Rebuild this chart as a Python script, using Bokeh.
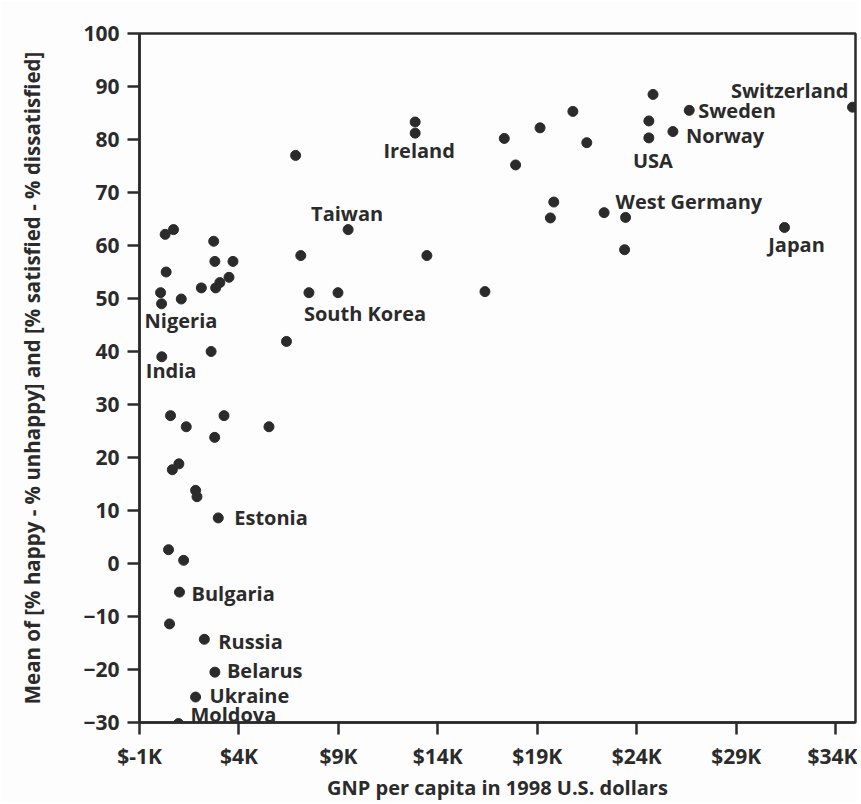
from bokeh.plotting import figure
from bokeh.models import FixedTicker, ColumnDataSource, Range1d
from bokeh.embed import file_html
from bokeh.resources import INLINE
from bokeh.core.properties import value

# ---- data ----
gnp = [290, 710, 2730, 2790, 3700, 340, 2110, 2830, 3040, 3500,
       60, 110, 1100, 120, 2600, 560, 3250, 1350, 5510, 2780,
       650, 980, 1820, 1890, 2960, 460, 1220, 1010, 510, 2260,
       2790, 1820, 960, 6390, 6850, 9490, 7110, 7520, 8980, 13450,
       16370, 12860, 12860, 17340, 17910, 19140, 20790, 21490, 19830, 19660,
       22360, 23440, 23390, 24820, 24610, 24610, 25820, 26640, 31430, 34850]
score = [62.1, 63.0, 60.8, 57.0, 57.0, 55.0, 52.0, 52.0, 53.0, 54.0,
         51.1, 49.0, 49.9, 39.0, 40.0, 27.9, 27.9, 25.8, 25.8, 23.8,
         17.7, 18.8, 13.8, 12.6, 8.6, 2.6, 0.6, -5.4, -11.4, -14.3,
         -20.5, -25.2, -30.2, 41.9, 77.0, 63.0, 58.1, 51.1, 51.1, 58.1,
         51.3, 83.3, 81.2, 80.2, 75.2, 82.2, 85.3, 79.4, 68.2, 65.2,
         66.2, 65.3, 59.2, 88.5, 83.5, 80.3, 81.5, 85.5, 63.4, 86.1]
country = ["", "", "", "", "", "", "", "", "", "",
           "", "Nigeria", "", "India", "", "", "", "", "", "",
           "", "", "", "", "Estonia", "", "", "Bulgaria", "", "Russia",
           "Belarus", "Ukraine", "Moldova", "", "", "Taiwan", "", "South Korea", "", "",
           "", "", "Ireland", "", "", "", "", "", "", "",
           "", "West Germany", "", "", "", "USA", "Norway", "Sweden", "Japan", "Switzerland"]

x_ticks = [-1000, 4000, 9000, 14000, 19000, 24000, 29000, 34000]
x_tick_labels = ["$-1K", "$4K", "$9K", "$14K", "$19K", "$24K", "$29K", "$34K"]
y_ticks = [-30, -20, -10, 0, 10, 20, 30, 40, 50, 60, 70, 80, 90, 100]

x_title = "GNP per capita in 1998 U.S. dollars"
y_title = "Mean of [% happy - % unhappy] and [% satisfied - % dissatisfied]"

# ---- label placement (style, screen pixels) ----
label_style = {
    "Switzerland": ("right", -4, -17),
    "Sweden": ("left", 9, 0),
    "Norway": ("left", 13, 4),
    "USA": ("center", 4, 23),
    "West Germany": ("left", -10, -16),
    "Japan": ("center", 12, 17),
    "Ireland": ("center", 4, 17),
    "Taiwan": ("center", -1, -16),
    "South Korea": ("left", -5, 21),
    "Nigeria": ("left", -17, 17),
    "India": ("left", -16, 14),
    "Estonia": ("left", 16, 0),
    "Bulgaria": ("left", 12, 1),
    "Russia": ("left", 14, 2),
    "Belarus": ("left", 12, -2),
    "Ukraine": ("left", 14, -2),
    "Moldova": ("left", 12, -9),
}

INK = "#2b2b2b"
FONT = "Open Sans"

p = figure(frame_width=716, frame_height=689,
           x_range=Range1d(-1000, 35000), y_range=Range1d(-30, 100),
           output_backend="svg", toolbar_location=None,
           min_border_left=139, min_border_top=33, min_border_right=2, min_border_bottom=74)
p.background_fill_color = "#fdfdfd"
p.border_fill_color = "#fdfdfd"
p.outline_line_color = INK
p.outline_line_width = 2.5
p.xgrid.visible = False
p.ygrid.visible = False

for ax in (p.xaxis[0], p.yaxis[0]):
    ax.axis_line_color = INK
    ax.axis_line_width = 2.5
    ax.major_tick_line_color = INK
    ax.major_tick_line_width = 2.5
    ax.major_tick_in = 0
    ax.major_tick_out = 12
    ax.minor_tick_line_color = None
    ax.major_label_text_font = FONT
    ax.major_label_text_font_style = "bold"
    ax.major_label_text_font_size = "21px"
    ax.major_label_text_color = INK
    ax.axis_label_text_font = FONT
    ax.axis_label_text_font_style = "bold"
    ax.axis_label_text_color = INK

p.xaxis.ticker = FixedTicker(ticks=x_ticks)
p.xaxis.major_label_overrides = {t: l for t, l in zip(x_ticks, x_tick_labels)}
p.xaxis.major_label_standoff = 7
p.xaxis.axis_label = x_title
p.xaxis.axis_label_standoff = 1
p.xaxis.axis_label_text_font_size = "20px"

p.yaxis.ticker = FixedTicker(ticks=y_ticks)
p.yaxis.major_label_standoff = 8
p.yaxis.axis_label = y_title
p.yaxis.axis_label_standoff = 34
p.yaxis.axis_label_text_font_size = "20.5px"

src = ColumnDataSource(dict(x=gnp, y=score))
p.scatter("x", "y", source=src, size=10, fill_color=INK, line_color=INK)

for align in ("left", "right", "center"):
    xs, ys, ts, xo, yo = [], [], [], [], []
    for gx, sc, name in zip(gnp, score, country):
        if name and label_style[name][0] == align:
            xs.append(gx); ys.append(sc); ts.append(name)
            xo.append(label_style[name][1]); yo.append(label_style[name][2])
    if not xs:
        continue
    lsrc = ColumnDataSource(dict(x=xs, y=ys, t=ts, xo=xo, yo=yo))
    p.text("x", "y", text="t", source=lsrc, x_offset="xo", y_offset="yo",
           text_align=align, text_baseline="middle",
           text_font=value(FONT), text_font_style="bold",
           text_font_size="20px", text_color=INK)

open("out.html", "w").write(file_html(p, INLINE))
